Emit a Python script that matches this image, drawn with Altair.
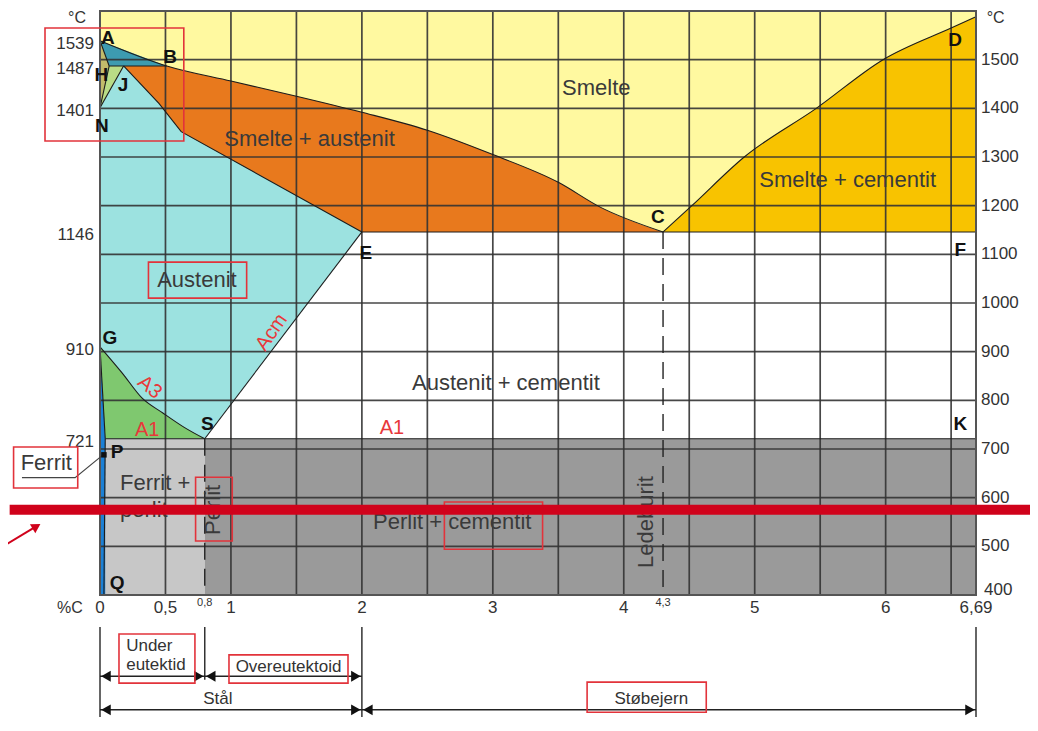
import altair as alt
import numpy as np
import pandas as pd

FONT = "Liberation Sans"

# ---------------- key points of the diagram (%C, degC) ----------------
pt_A = (0.0, 1539)
pt_B = (0.51, 1487)
pt_H = (0.07, 1487)
pt_J = (0.18, 1487)
pt_N = (0.0, 1401)
pt_C = (4.3, 1146)
pt_E = (2.0, 1146)
pt_F = (6.69, 1146)
pt_G = (0.0, 910)
pt_S = (0.8, 721)
pt_P = (0.04, 721)
pt_Q = (0.03, 400)
pt_K = (6.69, 721)

# boundary curves
liq_c = [0.0, 0.51, 1.0, 1.5, 2.0, 2.5, 3.0, 3.5, 3.82, 4.3]
liq_t = [1539, 1487, 1456, 1425, 1392, 1355, 1305, 1248, 1197, 1146]
cd_c = [4.3, 4.52, 4.92, 5.47, 5.98, 6.5, 6.69]
cd_t = [1146, 1200, 1300, 1400, 1500, 1565, 1588]
je_c = [0.18, 0.45, 0.62, 2.0]
je_t = [1487, 1410, 1352, 1146]
a3_c = [0.0, 0.17, 0.32, 0.48, 0.64, 0.8]
a3_t = [910, 856, 805, 774, 745, 721]

# grid
grid_c = [0.5, 1.0, 1.5, 2.0, 2.5, 3.0, 3.5, 4.0, 4.5, 5.0, 5.5, 6.0, 6.5]
grid_t = [500, 600, 700, 800, 900, 1000, 1100, 1200, 1300, 1400, 1500]

# tick labels
xtick_vals = [0, 0.5, 0.8, 1, 2, 3, 4, 4.3, 5, 6, 6.69]
xtick_text = ["0", "0,5", "0,8", "1", "2", "3", "4", "4,3", "5", "6", "6,69"]
xtick_small = [False, False, True, False, False, False, False, True, False, False, False]
left_vals = [1539, 1487, 1401, 1146, 910, 721]
right_vals = [400, 500, 600, 700, 800, 900, 1000, 1100, 1200, 1300, 1400, 1500]

# region labels
reg_text = ["Smelte", "Smelte + austenit", "Smelte + cementit", "Austenit",
            "Austenit + cementit", "Ferrit +", "perlit", "Perlit + cementit",
            "Perlit", "Ledeburit"]
reg_c = [3.79, 1.60, 5.71, 0.74, 3.10, 0.153, 0.153, 2.69, 0.86, 4.17]
reg_t = [1442, 1337, 1253, 1047, 836, 630, 575, 550, 575, 550]
reg_angle = [0, 0, 0, 0, 0, 0, 0, 0, 270, 270]
reg_align = ["center", "center", "center", "center", "center", "left", "left", "center", "center", "center"]

# red line labels
red_text = ["A1", "A1", "A3", "Acm"]
red_c = [0.36, 2.23, 0.38, 1.31]
red_t = [739, 743, 827, 940]
red_angle = [0, 0, 40, 305]

# point letters
let_text = ["A", "B", "H", "J", "N", "C", "D", "E", "F", "G", "S", "P", "Q", "K"]
let_c = [0.06, 0.535, 0.01, 0.176, 0.015, 4.26, 6.53, 2.03, 6.57, 0.076, 0.82, 0.13, 0.13, 6.57]
let_t = [1545, 1505, 1468, 1448, 1364, 1177, 1540, 1103, 1109, 928, 751, 694, 425, 751]

# annotation boxes (red frames)
box_c1 = [-0.42, 0.37, -0.66, 0.73, 2.63, 0.145, 0.985, 3.72]
box_c2 = [0.64, 1.12, -0.17, 1.01, 3.38, 0.725, 1.894, 4.63]
box_t1 = [1565, 1084, 704, 642, 591, 320, 277, 221]
box_t2 = [1333, 1010, 620, 511, 494, 219, 219, 159]

# bottom steel / cast iron ranges
rng_c1 = [0, 0.8, 0, 2]
rng_c2 = [0.8, 2, 2, 6.69]
rng_t = [233, 233, 164, 164]
vline_c = [0, 0.8, 2, 6.69]
vline_t1 = [334, 334, 334, 334]
vline_t2 = [90, 226, 90, 90]

xs = alt.Scale(domain=[0, 6.69], nice=False, zero=False)
ys = alt.Scale(domain=[400, 1600], nice=False, zero=False)


def X(f="c"):
    return alt.X(f"{f}:Q", scale=xs, axis=None)


def Y(f="t"):
    return alt.Y(f"{f}:Q", scale=ys, axis=None)


def area(cs, top, bot, color, interp="linear"):
    df = pd.DataFrame({"c": cs, "t": top, "t2": bot})
    return alt.Chart(df).mark_area(color=color, opacity=1, interpolate=interp).encode(
        x=X(), y=Y(), y2=alt.Y2("t2:Q"))


def seg_rows(segs):
    rows = []
    for k, (cc, tt) in segs.items():
        for i, (a, b) in enumerate(zip(cc, tt)):
            rows.append({"seg": k, "c": a, "t": b, "o": i})
    return pd.DataFrame(rows)


layers = []
# ---------- phase regions (painter order) ----------
layers.append(area([0, 6.69], [1600, 1600], [1146, 1146], "#FFF9A0"))
layers.append(area(liq_c, liq_t, [1146] * len(liq_c), "#E8791D", "monotone"))
layers.append(area(cd_c, cd_t, [1146] * len(cd_c), "#F8C300", "monotone"))
cy_c = [pt_N[0]] + je_c
cy_t = [pt_N[1]] + je_t
layers.append(area(cy_c, cy_t, [721] * len(cy_c), "#9CE2E0"))
layers.append(area([pt_S[0], pt_E[0]], [pt_S[1], pt_E[1]], [721, 721], "#FFFFFF"))
layers.append(area(a3_c, a3_t, [721] * len(a3_c), "#7FC86F", "monotone"))
layers.append(area([0, pt_S[0]], [721, 721], [400, 400], "#C7C7C7"))
layers.append(area([pt_S[0], 6.69], [721, 721], [400, 400], "#9A9A9A"))
layers.append(area([0, pt_P[0]], [pt_G[1], pt_P[1]], [400, 400], "#1B80D6"))
# delta ferrite
layers.append(area([0, pt_H[0]], [pt_A[1], pt_H[1]], [pt_N[1], pt_H[1]], "#C2BB6B"))
# delta + austenite
dg_c = [0, pt_H[0], pt_J[0]]
dg_bot = list(np.interp(dg_c, [pt_N[0], pt_J[0]], [pt_N[1], pt_J[1]]))
layers.append(area(dg_c, [pt_N[1], pt_H[1], pt_J[1]], dg_bot, "#B9DC86"))
# delta + melt
tl_c = [0, pt_H[0], pt_B[0]]
tl_top = list(np.interp(tl_c, [pt_A[0], pt_B[0]], [pt_A[1], pt_B[1]]))
layers.append(area(tl_c, tl_top, [pt_A[1], pt_H[1], pt_B[1]], "#3D9BB0"))

# ---------- grid ----------
layers.append(alt.Chart(pd.DataFrame({"c": grid_c})).mark_rule(
    color="#333333", strokeWidth=1.7, opacity=0.9).encode(
    x=X(), y=alt.value(0), y2=alt.value(584)))
layers.append(alt.Chart(pd.DataFrame({"t": grid_t})).mark_rule(
    color="#333333", strokeWidth=1.7, opacity=0.9).encode(
    y=Y(), x=alt.value(0), x2=alt.value(876)))

# ---------- phase boundaries ----------
straight = {
    "ah": ([pt_A[0], pt_H[0]], [pt_A[1], pt_H[1]]),
    "hn": ([pt_N[0], pt_H[0]], [pt_N[1], pt_H[1]]),
    "nj": ([pt_N[0], pt_J[0]], [pt_N[1], pt_J[1]]),
    "hb": ([pt_H[0], pt_B[0]], [pt_H[1], pt_B[1]]),
    "je": (je_c, je_t),
    "es": ([pt_S[0], pt_E[0]], [pt_S[1], pt_E[1]]),
    "gp": ([pt_G[0], pt_P[0]], [pt_G[1], pt_P[1]]),
    "pq": ([pt_Q[0], pt_P[0]], [pt_Q[1], pt_P[1]]),
    "ecf": ([pt_E[0], pt_F[0]], [pt_E[1], pt_F[1]]),
    "psk": ([pt_P[0], pt_K[0]], [pt_P[1], pt_K[1]]),
}
curved = {
    "liq": (liq_c, liq_t),
    "cd": (cd_c, cd_t),
    "a3": (a3_c, a3_t),
}
layers.append(alt.Chart(seg_rows(straight)).mark_line(
    color="#1c1c1c", strokeWidth=1.1).encode(
    x=X(), y=Y(), detail="seg:N", order="o:Q"))
layers.append(alt.Chart(seg_rows(curved)).mark_line(
    color="#1c1c1c", strokeWidth=1.1, interpolate="monotone").encode(
    x=X(), y=Y(), detail="seg:N", order="o:Q"))

# dashed lines at 0.8 and 4.3
dash_df = pd.DataFrame({"c": [pt_S[0], pt_C[0]], "t": [pt_S[1], pt_C[1]], "t2": [400, 400]})
layers.append(alt.Chart(dash_df).mark_rule(
    color="#222222", strokeWidth=1.4, strokeDash=[17, 9]).encode(
    x=X(), y=Y(), y2=alt.Y2("t2:Q")))

# plot border
layers.append(alt.Chart(pd.DataFrame({"c": [0], "c2": [6.69], "t": [400], "t2": [1600]})).mark_rect(
    fillOpacity=0, stroke="#555555", strokeWidth=2).encode(
    x=X(), x2=alt.X2("c2:Q"), y=Y(), y2=alt.Y2("t2:Q")))

# ---------- texts ----------
reg_df = pd.DataFrame({"txt": reg_text, "c": reg_c, "t": reg_t, "ang": reg_angle, "al": reg_align})
for al in ["center", "left"]:
    layers.append(alt.Chart(reg_df[reg_df.al == al]).mark_text(
        font=FONT, fontSize=22, color="#3a3a3a", align=al, baseline="middle").encode(
        x=X(), y=Y(), text="txt:N", angle=alt.Angle("ang:Q", scale=None)))

red_df = pd.DataFrame({"txt": red_text, "c": red_c, "t": red_t, "ang": red_angle})
layers.append(alt.Chart(red_df).mark_text(
    font=FONT, fontSize=20, color="#E8383A", baseline="middle").encode(
    x=X(), y=Y(), text="txt:N", angle=alt.Angle("ang:Q", scale=None)))

let_df = pd.DataFrame({"txt": let_text, "c": let_c, "t": let_t})
layers.append(alt.Chart(let_df).mark_text(
    font=FONT, fontSize=19, fontWeight="bold", color="#111111", baseline="middle").encode(
    x=X(), y=Y(), text="txt:N"))

# left axis labels
layers.append(alt.Chart(pd.DataFrame({"t": left_vals, "c": [0] * len(left_vals),
                                      "txt": [str(v) for v in left_vals]})).mark_text(
    font=FONT, fontSize=17, color="#333333", align="right", baseline="middle", dx=-6, dy=3).encode(
    x=X(), y=Y(), text="txt:N"))
# right axis labels (lowest one lifted a little, as in the original)
rv_df = pd.DataFrame({"t": right_vals, "c": [6.69] * len(right_vals),
                      "txt": [str(v) for v in right_vals]})
layers.append(alt.Chart(rv_df[rv_df.t > 400]).mark_text(
    font=FONT, fontSize=17, color="#333333", align="left", baseline="middle", dx=5).encode(
    x=X(), y=Y(), text="txt:N"))
layers.append(alt.Chart(rv_df[rv_df.t == 400]).mark_text(
    font=FONT, fontSize=17, color="#333333", align="left", baseline="middle", dx=8, dy=-5).encode(
    x=X(), y=Y(), text="txt:N"))
# bottom tick labels
xt_df = pd.DataFrame({"c": xtick_vals, "txt": xtick_text, "small": xtick_small})
xt_df["t"] = np.where(xt_df["small"], 384, 373)
xt_df["size"] = np.where(xt_df["small"], 11, 17)
layers.append(alt.Chart(xt_df).mark_text(
    font=FONT, color="#333333", baseline="middle").encode(
    x=X(), y=Y(), text="txt:N", size=alt.Size("size:Q", scale=None)))

# unit labels
unit_df = pd.DataFrame({"txt": ["°C", "°C", "%C"], "c": [-0.175, 6.84, -0.23], "t": [1586, 1586, 373]})
layers.append(alt.Chart(unit_df).mark_text(
    font=FONT, fontSize=16, color="#333333", baseline="middle").encode(
    x=X(), y=Y(), text="txt:N"))

# Ferrit callout
layers.append(alt.Chart(pd.DataFrame({"txt": ["Ferrit"], "c": [-0.41], "t": [671]})).mark_text(
    font=FONT, fontSize=22, color="#3a3a3a", baseline="middle").encode(
    x=X(), y=Y(), text="txt:N"))
fer_line = pd.DataFrame({"c": [-0.596, -0.19, 0.023], "t": [641, 641, 688], "o": [0, 1, 2]})
layers.append(alt.Chart(fer_line).mark_line(color="#444444", strokeWidth=1.2).encode(
    x=X(), y=Y(), order="o:Q"))
layers.append(alt.Chart(pd.DataFrame({"c": [0.03], "t": [688]})).mark_point(
    shape="square", filled=True, size=30, color="#111111", opacity=1).encode(x=X(), y=Y()))

# ---------- bottom ranges (Stål / Støbejern) ----------
vl_df = pd.DataFrame({"c": vline_c, "t": vline_t1, "t2": vline_t2})
layers.append(alt.Chart(vl_df).mark_rule(color="#333333", strokeWidth=1.5).encode(
    x=X(), y=Y(), y2=alt.Y2("t2:Q")))
rg_df = pd.DataFrame({"c": rng_c1, "c2": rng_c2, "t": rng_t})
layers.append(alt.Chart(rg_df).mark_rule(color="#222222", strokeWidth=1.5).encode(
    x=X(), x2=alt.X2("c2:Q"), y=Y()))
layers.append(alt.Chart(rg_df).mark_point(
    shape="triangle-left", filled=True, size=120, color="#111111", opacity=1, xOffset=6).encode(
    x=X(), y=Y()))
layers.append(alt.Chart(rg_df).mark_point(
    shape="triangle-right", filled=True, size=120, color="#111111", opacity=1, xOffset=-6).encode(
    x=X("c2"), y=Y()))
bt_df = pd.DataFrame({"txt": ["Under", "eutektid", "Overeutektoid", "Stål", "Støbejern"],
                      "c": [0.2, 0.2, 1.44, 0.90, 4.21],
                      "t": [295, 256, 252, 186, 186],
                      "al": ["left", "left", "center", "center", "center"]})
for al in ["left", "center"]:
    layers.append(alt.Chart(bt_df[bt_df.al == al]).mark_text(
        font=FONT, fontSize=17, color="#333333", align=al, baseline="middle").encode(
        x=X(), y=Y(), text="txt:N"))

# ---------- red annotations ----------
bx_df = pd.DataFrame({"c": box_c1, "c2": box_c2, "t": box_t1, "t2": box_t2})
layers.append(alt.Chart(bx_df).mark_rect(
    fillOpacity=0, stroke="#E2333B", strokeWidth=1.6).encode(
    x=X(), x2=alt.X2("c2:Q"), y=Y(), y2=alt.Y2("t2:Q")))
layers.append(alt.Chart(pd.DataFrame({"c": [-0.69], "c2": [7.14], "t": [575]})).mark_rule(
    color="#D0021B", strokeWidth=10).encode(x=X(), x2=alt.X2("c2:Q"), y=Y()))
layers.append(alt.Chart(pd.DataFrame({"c": [-0.764], "c2": [-0.50], "t": [496], "t2": [539]})).mark_rule(
    color="#D0021B", strokeWidth=2).encode(x=X(), x2=alt.X2("c2:Q"), y=Y(), y2=alt.Y2("t2:Q")))
layers.append(alt.Chart(pd.DataFrame({"c": [-0.485], "t": [541]})).mark_point(
    shape="triangle-up", angle=59, filled=True, size=110, color="#D0021B", opacity=1).encode(
    x=X(), y=Y()))

chart = alt.layer(*layers).properties(
    width=876, height=584,
    autosize=alt.AutoSizeParams(type="none"),
    padding={"left": 92, "top": 3, "right": 54, "bottom": 122},
).configure_view(stroke=None)

chart.save("out.html", embed_options={"renderer": "svg", "actions": False})
